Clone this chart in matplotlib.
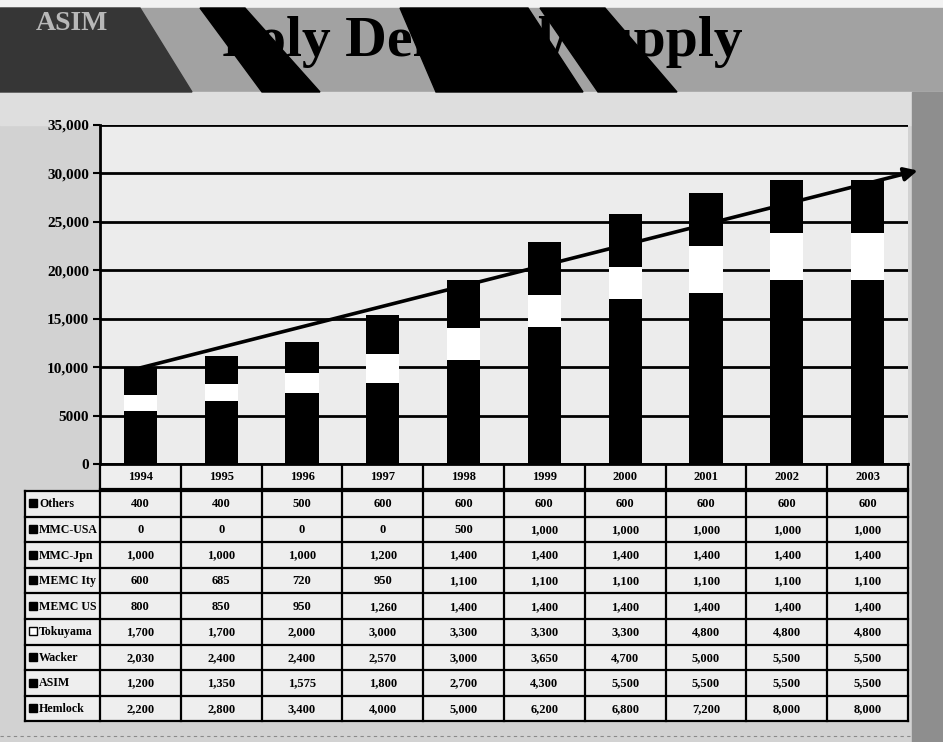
import matplotlib
matplotlib.use("Agg")
import matplotlib.pyplot as plt
from matplotlib.patches import Polygon, Rectangle
import numpy as np

# ---- data -------------------------------------------------------------
years = ["1994", "1995", "1996", "1997", "1998", "1999", "2000", "2001", "2002", "2003"]

# suppliers listed top-to-bottom as in the table (stack order is reversed)
suppliers = ["Others", "MMC-USA", "MMC-Jpn", "MEMC Ity", "MEMC US",
             "Tokuyama", "Wacker", "ASIM", "Hemlock"]

others   = [400, 400, 500, 600, 600, 600, 600, 600, 600, 600]
mmc_usa  = [0, 0, 0, 0, 500, 1000, 1000, 1000, 1000, 1000]
mmc_jpn  = [1000, 1000, 1000, 1200, 1400, 1400, 1400, 1400, 1400, 1400]
memc_ity = [600, 685, 720, 950, 1100, 1100, 1100, 1100, 1100, 1100]
memc_us  = [800, 850, 950, 1260, 1400, 1400, 1400, 1400, 1400, 1400]
tokuyama = [1700, 1700, 2000, 3000, 3300, 3300, 3300, 4800, 4800, 4800]
wacker   = [2030, 2400, 2400, 2570, 3000, 3650, 4700, 5000, 5500, 5500]
asim     = [1200, 1350, 1575, 1800, 2700, 4300, 5500, 5500, 5500, 5500]
hemlock  = [2200, 2800, 3400, 4000, 5000, 6200, 6800, 7200, 8000, 8000]

series = [others, mmc_usa, mmc_jpn, memc_ity, memc_us,
          tokuyama, wacker, asim, hemlock]
fills = ["black", "black", "black", "black", "black",
         "white", "black", "black", "black"]

y_ticks = [0, 5000, 10000, 15000, 20000, 25000, 30000, 35000]
y_tick_labels = ["0", "5000", "10,000", "15,000", "20,000", "25,000", "30,000", "35,000"]

trend_end_value = 30300

# ---- layout (pixels) --------------------------------------------------
W, H = 943, 742
PL, PR, PT, PB = 100, 908, 125, 464
LABEL_L = 25
HDR_B = 489
BODY_T = 491
ROW_H = 25.6

SERIF = "Liberation Serif"

fig = plt.figure(figsize=(W / 100, H / 100), dpi=100)
fig.patch.set_facecolor("#d2d2d2")

bg = fig.add_axes([0, 0, 1, 1], zorder=0)
bg.set_xlim(0, W)
bg.set_ylim(H, 0)
bg.axis("off")

# banner
bg.add_patch(Rectangle((0, 0), W, 8, color="#f2f2f2", zorder=1))
bg.add_patch(Rectangle((0, 8), W, 84, color="#a2a2a2", zorder=1))
bg.add_patch(Rectangle((0, 92), W, 33, color="#dedede", zorder=1))
bg.add_patch(Rectangle((912, 92), W - 912, H - 92, color="#8e8e8e", zorder=1))
stripes = [
    ([(0, 8), (140, 8), (192, 92), (0, 92)], "#363636"),
    ([(200, 8), (245, 8), (320, 92), (262, 92)], "black"),
    ([(400, 8), (528, 8), (583, 92), (436, 92)], "black"),
    ([(540, 8), (605, 8), (677, 92), (598, 92)], "black"),
]
for pts, c in stripes:
    bg.add_patch(Polygon(pts, closed=True, color=c, zorder=2))
bg.text(36, 23, "ASIM", fontsize=20, fontweight="bold", family=SERIF,
        color="#b8b8b8", va="center", ha="left", zorder=3)
bg.text(222, 56, "Poly Demand/Supply", fontsize=41.5, fontweight="bold",
        family=SERIF, color="black", va="baseline", ha="left", zorder=4)

# ---- chart ------------------------------------------------------------
ax = fig.add_axes([PL / W, 1 - PB / H, (PR - PL) / W, (PB - PT) / H], zorder=2)
ax.set_facecolor("#ececec")
x = np.arange(len(years))
bottom = np.zeros(len(years))
for vals, c in zip(series[::-1], fills[::-1]):
    ax.bar(x, vals, bottom=bottom, width=0.41, color=c, edgecolor="none", zorder=3)
    bottom += np.array(vals)
totals = bottom

ax.set_xlim(-0.5, len(years) - 0.5)
ax.set_ylim(0, 35000)
ax.set_yticks(y_ticks)
ax.set_yticklabels(y_tick_labels, fontsize=11, fontweight="bold", family=SERIF)
ax.set_xticks([])
ax.yaxis.grid(True, color="black", linewidth=2, zorder=1)
ax.set_axisbelow(True)
for s in ("top", "right"):
    ax.spines[s].set_visible(False)
ax.spines["left"].set_linewidth(2)
ax.spines["bottom"].set_linewidth(2)
ax.tick_params(axis="y", length=5, width=1.5, pad=3)

ax.annotate("", xy=(len(years) - 0.38, trend_end_value), xytext=(x[0], totals[0]),
            arrowprops=dict(arrowstyle="-|>", lw=2.6, color="black",
                            mutation_scale=20, shrinkA=0, shrinkB=0),
            annotation_clip=False, zorder=4)

# ---- data table -------------------------------------------------------
n = len(years)
colw = (PR - PL) / n
body_b = BODY_T + ROW_H * len(suppliers)

bg.add_patch(Rectangle((PL, PB), PR - PL, body_b - PB, color="#eeeeee", zorder=1))
bg.add_patch(Rectangle((LABEL_L, BODY_T), PL - LABEL_L, body_b - BODY_T,
                       color="#eeeeee", zorder=1))

lw = 1.6
for i in range(n + 1):
    xe = PL + i * colw
    bg.plot([xe, xe], [PB, body_b], color="black", lw=lw, zorder=3)
bg.plot([LABEL_L, LABEL_L], [BODY_T, body_b], color="black", lw=lw, zorder=3)
bg.plot([PL, PR], [HDR_B, HDR_B], color="black", lw=lw, zorder=3)
for r in range(len(suppliers) + 1):
    yy = BODY_T + r * ROW_H
    bg.plot([LABEL_L, PR], [yy, yy], color="black", lw=lw, zorder=3)

for i, yr in enumerate(years):
    bg.text(PL + (i + 0.5) * colw, (PB + HDR_B) / 2 + 1, yr, fontsize=9,
            fontweight="bold", family=SERIF, ha="center", va="center", zorder=4)

for r, (name, vals, c) in enumerate(zip(suppliers, series, fills)):
    yc = BODY_T + (r + 0.5) * ROW_H
    bg.add_patch(Rectangle((28.5, yc - 4.5), 8, 8, facecolor=c, edgecolor="black",
                           lw=1, zorder=4))
    bg.text(39, yc + 0.5, name, fontsize=8.6, fontweight="bold", family=SERIF,
            ha="left", va="center", zorder=4)
    for i, v in enumerate(vals):
        bg.text(PL + (i + 0.5) * colw, yc + 0.5, f"{v:,}", fontsize=9,
                fontweight="bold", family=SERIF, ha="center", va="center", zorder=4)

bg.plot([0, 910], [736, 736], color="#8a8a8a", lw=0.8, ls=(0, (3, 3)), zorder=2)

fig.savefig("out.png", dpi=100, facecolor=fig.get_facecolor())
